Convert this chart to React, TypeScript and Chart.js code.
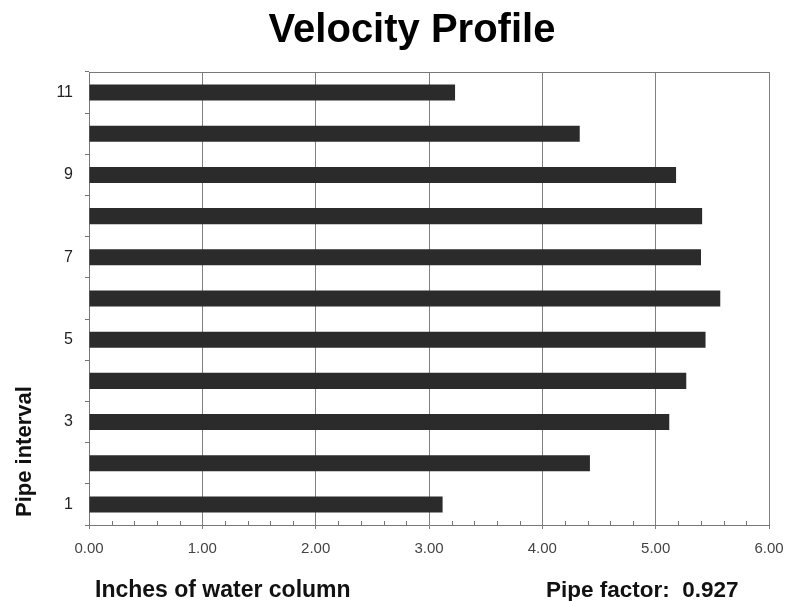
import React, { useEffect, useRef } from 'react';
import { Chart, registerables } from 'chart.js';

Chart.register(...registerables);

const categories = ['1', '2', '3', '4', '5', '6', '7', '8', '9', '10', '11'];
const values = [3.12, 4.42, 5.12, 5.27, 5.44, 5.57, 5.4, 5.41, 5.18, 4.33, 3.23];
const xMin = 0;
const xMax = 6;
const xStep = 1;
const minorPerMajor = 5;
const titleText = 'Velocity Profile';
const yTitleText = 'Pipe interval';
const xTitleText = 'Inches of water column';
const pipeFactorLabel = 'Pipe factor:';
const pipeFactorValue = '0.927';

const FONT = '"Liberation Sans", Arial, Helvetica, sans-serif';

const extras = {
  id: 'extras',
  afterDraw(chart: any) {
    const { ctx, chartArea: a } = chart;
    const xs = chart.scales.x;
    ctx.save();
    ctx.strokeStyle = '#777';
    ctx.lineWidth = 1;
    // top border
    ctx.beginPath();
    ctx.moveTo(a.left, Math.round(a.top) + 0.5);
    ctx.lineTo(a.right, Math.round(a.top) + 0.5);
    ctx.stroke();
    // minor ticks (inside, pointing up)
    const n = ((xMax - xMin) / xStep) * minorPerMajor;
    ctx.beginPath();
    for (let i = 1; i < n; i++) {
      if (i % minorPerMajor === 0) continue;
      const v = xMin + (i * xStep) / minorPerMajor;
      const px = Math.round(xs.getPixelForValue(v)) + 0.5;
      ctx.moveTo(px, a.bottom);
      ctx.lineTo(px, a.bottom - 4);
    }
    ctx.stroke();

    // title
    ctx.fillStyle = '#000';
    ctx.textBaseline = 'alphabetic';
    ctx.textAlign = 'center';
    ctx.font = `bold 40px ${FONT}`;
    ctx.fillText(titleText, 412, 42);

    // bottom texts
    ctx.textAlign = 'left';
    ctx.fillStyle = '#111';
    ctx.font = `bold 23px ${FONT}`;
    ctx.fillText(xTitleText, 95, 597);
    ctx.font = `bold 22.5px ${FONT}`;
    ctx.fillText(pipeFactorLabel + '  ' + pipeFactorValue, 546, 597);

    // y title
    ctx.save();
    ctx.font = `bold 22px ${FONT}`;
    ctx.translate(31, 517);
    ctx.rotate(-Math.PI / 2);
    ctx.textAlign = 'left';
    ctx.fillText(yTitleText, 0, 0);
    ctx.restore();

    ctx.restore();
  },
};

export default function App() {
  const ref = useRef<HTMLCanvasElement>(null);
  useEffect(() => {
    if (!ref.current) return;
    const chart = new Chart(ref.current, {
      type: 'bar',
      data: {
        labels: categories,
        datasets: [
          {
            data: values,
            backgroundColor: '#2b2b2b',
            borderWidth: 0,
            barPercentage: 0.39,
            categoryPercentage: 1,
          },
        ],
      },
      options: {
        indexAxis: 'y',
        animation: false,
        responsive: true,
        maintainAspectRatio: false,
        layout: { padding: { top: 72, right: 21, left: 0, bottom: 0 } },
        plugins: {
          legend: { display: false },
          title: { display: false },
          tooltip: { enabled: false },
        },
        scales: {
          x: {
            type: 'linear',
            min: xMin,
            max: xMax,
            z: 1,
            ticks: {
              stepSize: xStep,
              padding: 11,
              color: '#444',
              font: { family: FONT, size: 15 },
              callback: (v: any) => Number(v).toFixed(2),
            },
            grid: { color: '#808080', lineWidth: 1, tickLength: 4, drawTicks: true },
            border: { display: true, color: '#777' },
            afterFit: (s: any) => {
              s.height = 76;
              s.paddingLeft = 0;
              s.paddingRight = 0;
            },
          },
          y: {
            type: 'category',
            reverse: true,
            ticks: {
              padding: 12,
              color: '#222',
              font: { family: FONT, size: 16 },
              autoSkip: false,
              callback: function (this: any, v: any, i: number) {
                return i % 2 === 0 ? this.getLabelForValue(v) : '';
              },
            },
            grid: { offset: true, drawOnChartArea: false, drawTicks: true, tickLength: 4, color: '#777' },
            border: { display: true, color: '#777' },
            afterFit: (s: any) => {
              s.width = 89;
              s.paddingTop = 0;
              s.paddingBottom = 0;
            },
          },
        },
      },
      plugins: [extras],
    });
    return () => chart.destroy();
  }, []);
  return (
    <div style={{ position: 'fixed', left: 0, top: 0, width: 790, height: 601, background: '#fff' }}>
      <canvas ref={ref} />
    </div>
  );
}
